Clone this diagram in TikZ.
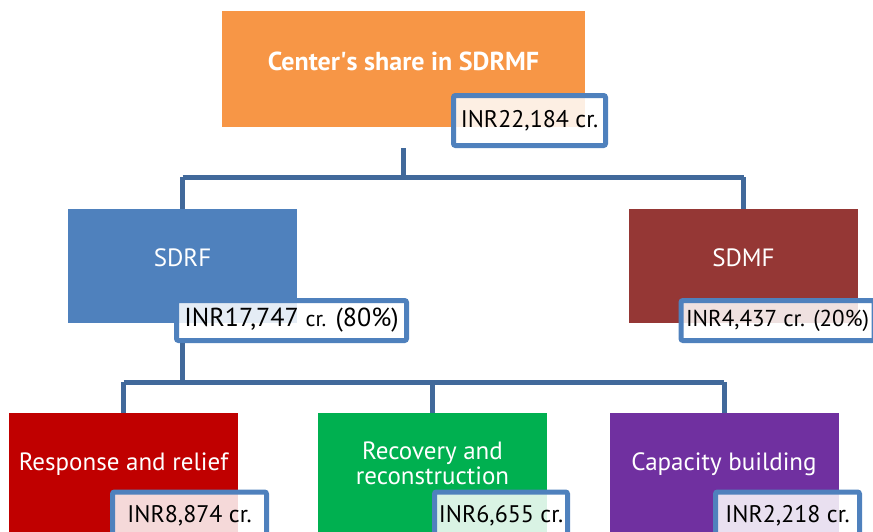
\documentclass[tikz,border=0pt]{standalone}
\usepackage{fontspec}
\setmainfont{PT Sans}
\begin{document}
\begin{tikzpicture}[x=1pt,y=-1pt,
  box/.style={draw=none,inner sep=0pt,minimum width=229pt,minimum height=114pt},
  ttl/.style={text=white,font=\fontsize{25}{28}\selectfont,align=center},
  lbl/.style={draw=lblue,line width=5pt,rounded corners=2pt,fill=white,fill opacity=0.85,text opacity=1,inner sep=0pt,font=\fontsize{24}{27}\selectfont,text=black},
  conn/.style={draw=cblue,line width=5pt}]
\definecolor{lblue}{HTML}{4F81BD}
\definecolor{cblue}{HTML}{41699B}
\definecolor{orng}{HTML}{F79646}
\definecolor{sdrf}{HTML}{4F81BD}
\definecolor{sdmf}{HTML}{953735}
\definecolor{red1}{HTML}{C00000}
\definecolor{grn1}{HTML}{00B050}
\definecolor{pur1}{HTML}{7030A0}
\useasboundingbox (0,0) rectangle (873,531);
\clip (0,0) rectangle (873,531);
% boxes
\node[box,fill=orng,minimum width=363pt,minimum height=116pt] (top) at (403.5,69) {};
\node[ttl,font=\fontsize{26}{28}\selectfont\bfseries] (toptxt) at (403.5,61) {Center\textquotesingle s share in SDRMF};
\node[box,fill=sdrf] (sdrf) at (182.5,266) {};
\node[ttl] (sdrftxt) at (182.5,258) {SDRF};
\node[box,fill=sdmf] (sdmf) at (743.5,266) {};
\node[ttl] (sdmftxt) at (743.5,258) {SDMF};
\node[box,fill=red1,minimum height=130pt] (c1) at (123.5,478) {};
\node[ttl] (c1txt) at (123.5,464) {Response and relief};
\node[box,fill=grn1,minimum height=130pt] (c2) at (432.5,478) {};
\node[ttl,font=\fontsize{25}{25}\selectfont] (c2txt) at (432.5,463) {Recovery and\\reconstruction};
\node[box,fill=pur1,minimum height=130pt] (c3) at (724,478) {};
\node[ttl] (c3txt) at (724,464) {Capacity building};
% labels
\node[lbl,minimum width=152pt,minimum height=50pt] (toplbl) at (529.5,120.5) {INR22,184 cr.};
\node[lbl,minimum width=230pt,minimum height=40pt] (sdrflbl) at (291.5,320.5) {\fontsize{26}{28}\selectfont INR17,747 {\fontsize{22}{24}\selectfont cr.} (80\%)};
\node[lbl,minimum width=193pt,minimum height=40pt] (sdmflbl) at (777.5,320.5) {\fontsize{23}{26}\selectfont INR4,437 cr. (20\%)};
\node[lbl,minimum width=154pt,minimum height=48pt] (c1lbl) at (189.5,516) {INR8,874 cr.};
\node[lbl,minimum width=133pt,minimum height=48pt] (c2lbl) at (501,516) {INR6,655 cr.};
\node[lbl,minimum width=144pt,minimum height=48pt] (c3lbl) at (787.5,516) {INR2,218 cr.};
% connectors
\coordinate (j1) at (403,177);
\draw[conn] (403,148) -- (j1);
\draw[conn] (sdrf.north |- j1) -- (sdmf.north |- j1);
\draw[conn] (sdrf.north |- j1) -- (sdrf.north);
\draw[conn] (sdmf.north |- j1) -- (sdmf.north);
\coordinate (j2) at (182,382);
\draw[conn] (182,343) -- (j2);
\draw[conn] (c1.north |- j2) -- (c3.north |- j2);
\draw[conn] (c1.north |- j2) -- (c1.north);
\draw[conn] (c2.north |- j2) -- (c2.north);
\draw[conn] (c3.north |- j2) -- (c3.north);
\end{tikzpicture}
\end{document}
